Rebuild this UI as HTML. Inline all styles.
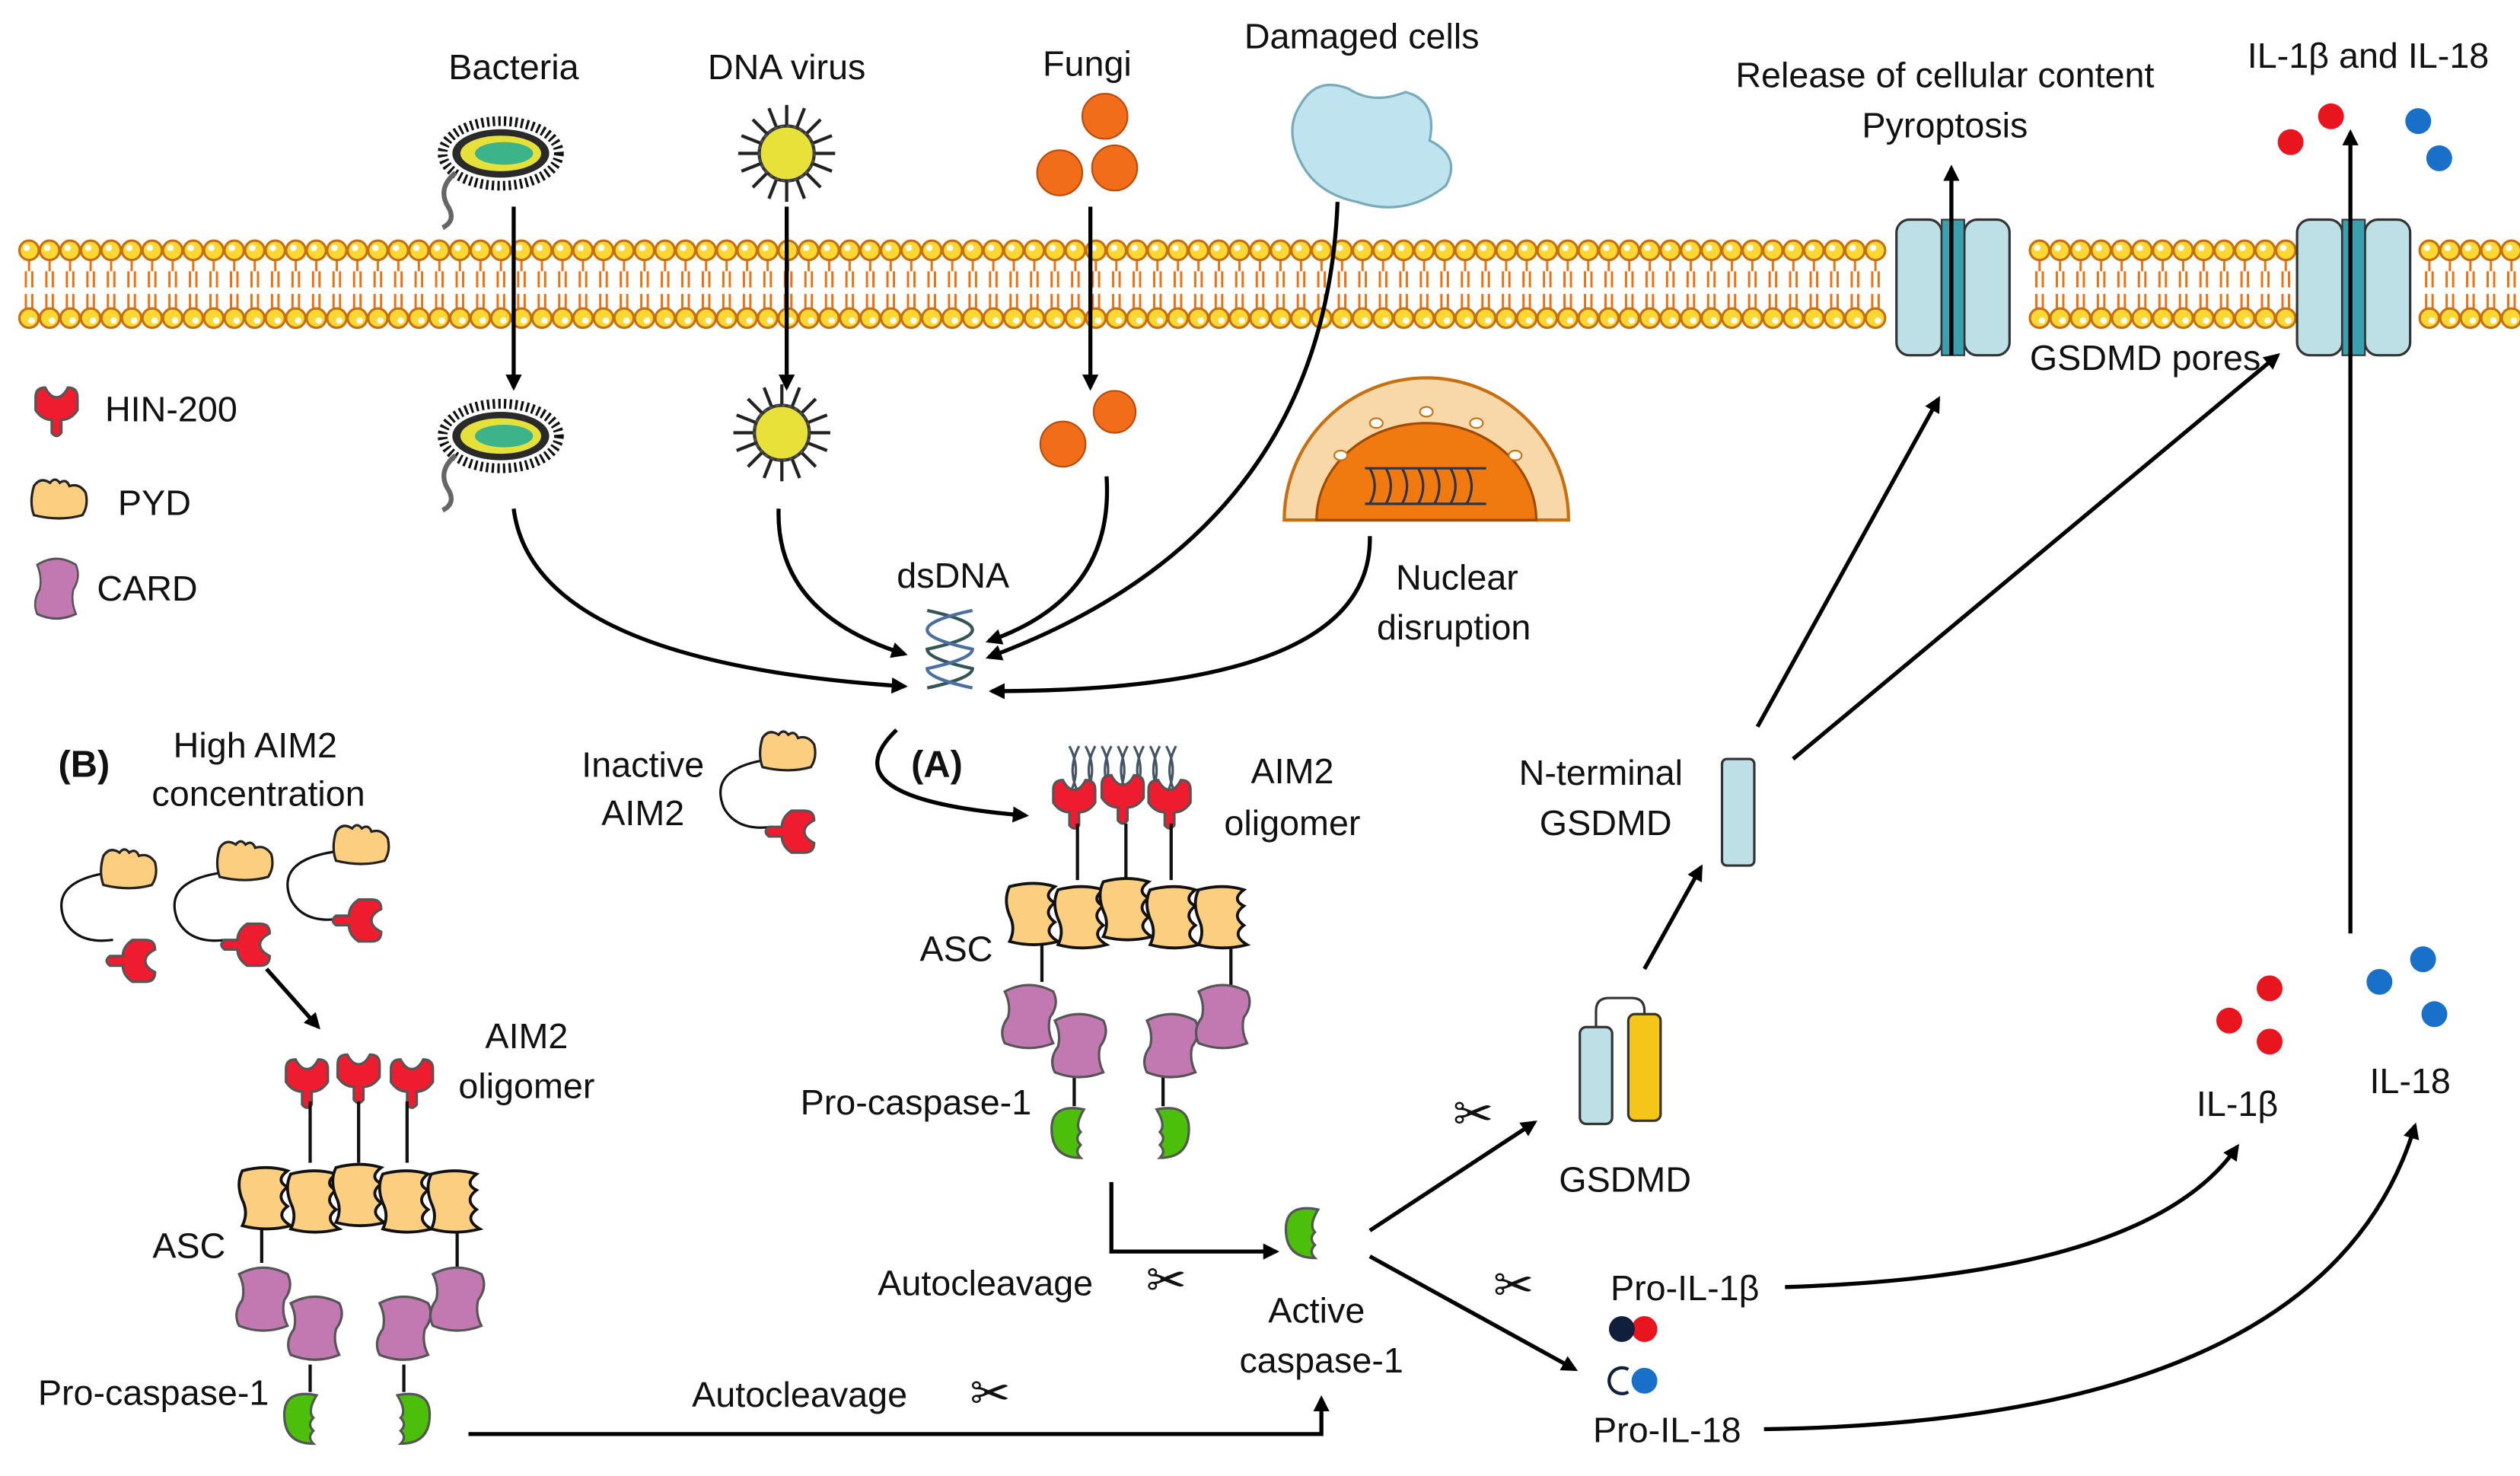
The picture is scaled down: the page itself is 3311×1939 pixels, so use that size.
<!DOCTYPE html>
<html><head><meta charset="utf-8"><style>
html,body{margin:0;padding:0;background:#fff;}
svg{display:block;}
text{font-family:"Liberation Sans","DejaVu Sans",sans-serif;font-size:22px;fill:#111;}
</style></head><body>
<svg width="3311" height="1939" viewBox="0 0 1560 914" preserveAspectRatio="none" xmlns="http://www.w3.org/2000/svg">
<defs>
<marker id="ah" markerWidth="10" markerHeight="10" refX="8" refY="5" orient="auto" markerUnits="userSpaceOnUse"><path d="M0,0 L10,5 L0,10 z" fill="#000"/></marker>
<g id="hin"><path d="M-13,-8 q0,-6 6,-6 q3,6 7,6 q4,0 7,-6 q6,0 6,6 l0,8 q-4,6 -10,6 l0,8 q-3,4 -6,0 l0,-8 q-6,0 -10,-6z" fill="#ee1c2e" stroke="#555" stroke-width="1.5"/></g>
<g id="pyd"><path d="M-16,-10 q4,-6 10,-2 q3,-4 6,0 q4,-3 6,2 q6,-2 10,4 q2,8 -2,14 q-14,4 -30,0 q-3,-8 0,-18z" fill="#fbcf7f" stroke="#222" stroke-width="1.5"/></g>
<g id="asc"><path d="M-15,-17 q15,-4 28,0 q-8,6 0,10 q-8,6 0,12 q-8,6 2,12 q-15,4 -30,0 q4,-8 0,-16 q-4,-10 0,-18z" fill="#fbcf7f" stroke="#111" stroke-width="1.8"/></g>
<g id="card"><path d="M-15,-16 q15,-8 30,0 q4,8 -2,16 q-2,8 2,16 q-15,6 -30,0 q-4,-8 2,-16 q2,-8 -2,-16z" fill="#c279b2" stroke="#555" stroke-width="1.5"/></g>
<g id="casp"><path d="M4,-16 q-20,-4 -20,12 q0,18 18,18 q-4,-4 0,-8 q-4,-4 0,-8 q-4,-4 2,-14z" fill="#4cbf0a" stroke="#555" stroke-width="1.5"/></g>
<g id="caspR"><path d="M-4,-16 q20,-4 20,12 q0,18 -18,18 q4,-4 0,-8 q4,-4 0,-8 q4,-4 -2,-14z" fill="#4cbf0a" stroke="#555" stroke-width="1.5"/></g>
<g id="bact"><ellipse cx="0" cy="0" rx="36" ry="20" fill="none" stroke="#111" stroke-width="6" stroke-dasharray="1.5 2"/><ellipse cx="0" cy="0" rx="30" ry="15" fill="#2a2a2a"/><ellipse cx="0" cy="0" rx="25" ry="11" fill="#e6e13a"/><ellipse cx="2" cy="0" rx="18" ry="7" fill="#3db38a"/><path d="M-28,12 q-12,10 -4,22 q4,8 -4,12" stroke="#666" stroke-width="3" fill="none"/></g>
<g id="virus"><g stroke="#222" stroke-width="2"><line x1="-30" y1="0" x2="30" y2="0"/><line x1="0" y1="-30" x2="0" y2="30"/><line x1="-21" y1="-21" x2="21" y2="21"/><line x1="-21" y1="21" x2="21" y2="-21"/><line x1="-28" y1="-11" x2="28" y2="11"/><line x1="-11" y1="-28" x2="11" y2="28"/><line x1="-28" y1="11" x2="28" y2="-11"/><line x1="11" y1="-28" x2="-11" y2="28"/></g><circle r="17" fill="#e7e13a" stroke="#333" stroke-width="2"/><circle r="17" fill="none" stroke="#555" stroke-width="1" stroke-dasharray="2 2"/></g>
<g id="dna"><path d="M-14,0 q28,6 28,12 q0,6 -28,12 q0,6 28,12 q0,6 -28,12" stroke="#355" stroke-width="2" fill="none"/><path d="M14,0 q-28,6 -28,12 q0,6 28,12 q0,6 -28,12 q0,6 28,12" stroke="#4a6fa0" stroke-width="2" fill="none"/></g>
<g id="pore"><rect x="-35" y="-42" width="28" height="84" rx="8" fill="#bde0e6" stroke="#333" stroke-width="1.5"/><rect x="7" y="-42" width="28" height="84" rx="8" fill="#bde0e6" stroke="#333" stroke-width="1.5"/><rect x="-7" y="-42" width="14" height="84" fill="#3aa0b0" stroke="#333" stroke-width="1"/></g>
</defs>

<!-- pores -->
<use href="#pore" x="1209" y="178"/>
<use href="#pore" x="1457" y="178"/>

<!-- top labels -->
<text x="318" y="49" text-anchor="middle">Bacteria</text>
<text x="487" y="49" text-anchor="middle">DNA virus</text>
<text x="673" y="47" text-anchor="middle">Fungi</text>
<text x="843" y="30" text-anchor="middle">Damaged cells</text>
<text x="1204" y="54" text-anchor="middle">Release of cellular content</text>
<text x="1204" y="85" text-anchor="middle">Pyroptosis</text>
<text x="1466" y="42" text-anchor="middle">IL-1β and IL-18</text>
<text x="1328" y="229" text-anchor="middle">GSDMD pores</text>

<!-- legend -->
<use href="#hin" x="35" y="254"/><text x="65" y="261">HIN-200</text>
<use href="#pyd" x="37" y="311"/><text x="73" y="319">PYD</text>
<g transform="translate(35,365) scale(0.8,0.95)"><use href="#card"/></g><text x="60" y="372">CARD</text>

<!-- pathogens -->
<use href="#bact" x="310" y="95"/>
<use href="#bact" x="310" y="270"/>
<use href="#virus" x="487" y="95"/>
<use href="#virus" x="484" y="268"/>
<g fill="#f26d1a" stroke="#b94a0a" stroke-width="1"><circle cx="684" cy="72" r="14"/><circle cx="656" cy="107" r="14"/><circle cx="690" cy="104" r="14"/><circle cx="690" cy="255" r="13"/><circle cx="658" cy="275" r="14"/></g>
<path d="M805,65 q10,-18 30,-10 q15,10 35,2 q20,5 15,30 q20,10 10,28 q-25,20 -55,10 q-25,-5 -35,-25 q-10,-20 0,-35z" fill="#bfe3ef" stroke="#7ab" stroke-width="1.5"/>
<!-- nucleus -->
<path d="M795,322 a88,88 0 0 1 176,0z" fill="#f8d7a8" stroke="#c87010" stroke-width="2"/>
<path d="M815,322 a68,60 0 0 1 136,0z" fill="#f07a10" stroke="#a04a00" stroke-width="1.5"/>
<g stroke="#334" stroke-width="1.5" fill="none"><path d="M845,290 h75 M845,312 h75"/><path d="M848,290 q6,11 0,22 M858,290 q6,11 0,22 M868,290 q6,11 0,22 M878,290 q6,11 0,22 M888,290 q6,11 0,22 M898,290 q6,11 0,22 M908,290 q6,11 0,22"/></g>
<g fill="#fff" stroke="#c87010"><ellipse cx="830" cy="282" rx="4" ry="3"/><ellipse cx="852" cy="262" rx="4" ry="3"/><ellipse cx="883" cy="255" rx="4" ry="3"/><ellipse cx="914" cy="262" rx="4" ry="3"/><ellipse cx="938" cy="282" rx="4" ry="3"/></g>
<text x="902" y="365" text-anchor="middle">Nuclear</text><text x="900" y="396" text-anchor="middle">disruption</text>

<!-- dsDNA -->
<text x="590" y="364" text-anchor="middle">dsDNA</text>
<use href="#dna" x="588" y="378"/>

<!-- arrows -->
<g stroke="#000" stroke-width="2.5" fill="none" marker-end="url(#ah)">
<line x1="318" y1="128" x2="318" y2="240"/>
<line x1="487" y1="128" x2="487" y2="240"/>
<line x1="675" y1="128" x2="675" y2="240"/>
<path d="M828,125 Q820,330 612,407"/>
<path d="M318,315 Q330,410 560,425"/>
<path d="M482,315 Q480,380 560,405"/>
<path d="M685,295 Q690,370 612,397"/>
<path d="M848,332 Q850,428 614,428"/>
<path d="M555,452 Q510,495 635,505"/>
<path d="M688,732 V775 H790"/>
<path d="M290,888 H818 V866"/>
<line x1="848" y1="762" x2="950" y2="695"/>
<line x1="848" y1="778" x2="975" y2="848"/>
<line x1="1018" y1="600" x2="1053" y2="537"/>
<line x1="1088" y1="450" x2="1200" y2="247"/>
<line x1="1110" y1="470" x2="1410" y2="220"/>
<line x1="1208" y1="220" x2="1208" y2="104"/>
<line x1="1455" y1="578" x2="1455" y2="82"/>
<path d="M1105,797 Q1330,790 1385,710"/>
<path d="M1092,885 Q1440,880 1495,697"/>
<line x1="165" y1="600" x2="197" y2="636"/>
</g>

<!-- (A) -->
<text x="398" y="481" text-anchor="middle">Inactive</text><text x="398" y="511" text-anchor="middle">AIM2</text>
<path d="M478,470 q-40,5 -30,30 q8,15 30,12" stroke="#111" stroke-width="1.5" fill="none"/>
<use href="#pyd" x="488" y="467"/>
<g transform="translate(490,515) rotate(90)"><use href="#hin"/></g>
<text x="580" y="481" text-anchor="middle" style="font-weight:bold;font-size:23px">(A)</text>
<text x="52" y="481" text-anchor="middle" style="font-weight:bold;font-size:23px">(B)</text>
<text x="158" y="469" text-anchor="middle">High AIM2</text><text x="160" y="499" text-anchor="middle">concentration</text>

<g stroke="#456" stroke-width="1.5" fill="none"><path d="M662,462 q8,15 0,30 M672,462 q8,15 0,30 M682,462 q8,15 0,30 M692,462 q8,15 0,30 M702,462 q8,15 0,30 M712,462 q8,15 0,30 M722,462 q8,15 0,30 M668,462 q-8,15 0,30 M678,462 q-8,15 0,30 M688,462 q-8,15 0,30 M698,462 q-8,15 0,30 M708,462 q-8,15 0,30 M718,462 q-8,15 0,30 M728,462 q-8,15 0,30"/></g>
<use href="#hin" x="665" y="497"/><use href="#hin" x="724" y="497"/><use href="#hin" x="695" y="494"/>
<text x="800" y="485" text-anchor="middle">AIM2</text><text x="800" y="517" text-anchor="middle">oligomer</text>
<g stroke="#111" stroke-width="2"><line x1="667" y1="510" x2="667" y2="545"/><line x1="697" y1="510" x2="697" y2="545"/><line x1="725" y1="510" x2="725" y2="545"/><line x1="645" y1="585" x2="645" y2="608"/><line x1="762" y1="585" x2="762" y2="610"/><line x1="665" y1="665" x2="665" y2="685"/><line x1="720" y1="665" x2="720" y2="685"/></g>
<use href="#asc" x="640" y="566"/><use href="#asc" x="670" y="568"/><use href="#asc" x="698" y="563"/><use href="#asc" x="727" y="568"/><use href="#asc" x="757" y="568"/>
<text x="592" y="595" text-anchor="middle">ASC</text>
<use href="#card" x="637" y="630"/><use href="#card" x="668" y="648"/><use href="#card" x="725" y="648"/><use href="#card" x="757" y="630"/>
<text x="567" y="690" text-anchor="middle">Pro-caspase-1</text>
<use href="#casp" x="667" y="703"/><use href="#caspR" x="720" y="703"/>
<text x="610" y="802" text-anchor="middle">Autocleavage</text>
<text x="722" y="803" text-anchor="middle" style="font-size:30px">✂</text>
<use href="#casp" x="812" y="765"/>
<text x="815" y="819" text-anchor="middle">Active</text><text x="818" y="850" text-anchor="middle">caspase-1</text>

<!-- (B) -->
<g stroke="#111" stroke-width="1.5" fill="none"><path d="M70,540 q-40,5 -30,30 q8,15 30,12"/><path d="M140,540 q-40,5 -30,30 q8,15 30,12"/><path d="M210,527 q-40,5 -30,30 q8,15 30,12"/></g>
<use href="#pyd" x="80" y="540"/><use href="#pyd" x="152" y="535"/><use href="#pyd" x="224" y="525"/>
<g transform="translate(82,595) rotate(90)"><use href="#hin"/></g><g transform="translate(153,585) rotate(90)"><use href="#hin"/></g><g transform="translate(222,570) rotate(90)"><use href="#hin"/></g>
<use href="#hin" x="190" y="670"/><use href="#hin" x="222" y="667"/><use href="#hin" x="255" y="670"/>
<text x="326" y="649" text-anchor="middle">AIM2</text><text x="326" y="680" text-anchor="middle">oligomer</text>
<g stroke="#111" stroke-width="2"><line x1="192" y1="682" x2="192" y2="720"/><line x1="222" y1="682" x2="222" y2="720"/><line x1="252" y1="682" x2="252" y2="720"/><line x1="162" y1="760" x2="162" y2="782"/><line x1="283" y1="760" x2="283" y2="785"/><line x1="192" y1="845" x2="192" y2="862"/><line x1="250" y1="845" x2="250" y2="862"/></g>
<use href="#asc" x="165" y="742"/><use href="#asc" x="195" y="744"/><use href="#asc" x="223" y="740"/><use href="#asc" x="252" y="744"/><use href="#asc" x="282" y="744"/>
<text x="117" y="779" text-anchor="middle">ASC</text>
<use href="#card" x="163" y="805"/><use href="#card" x="195" y="823"/><use href="#card" x="250" y="823"/><use href="#card" x="283" y="805"/>
<text x="95" y="870" text-anchor="middle">Pro-caspase-1</text>
<use href="#casp" x="192" y="880"/><use href="#caspR" x="250" y="880"/>
<text x="495" y="871" text-anchor="middle">Autocleavage</text>
<text x="613" y="873" text-anchor="middle" style="font-size:30px">✂</text>
<text x="912" y="700" text-anchor="middle" style="font-size:30px">✂</text>
<text x="937" y="806" text-anchor="middle" style="font-size:30px">✂</text>

<!-- GSDMD -->
<path d="M988,640 v-14 q0,-8 8,-8 h14 q8,0 8,8 v14" stroke="#333" stroke-width="1.5" fill="none"/>
<rect x="978" y="636" width="20" height="60" rx="4" fill="#bde0e6" stroke="#333" stroke-width="1.5"/>
<rect x="1008" y="628" width="20" height="66" rx="4" fill="#f5c518" stroke="#333" stroke-width="1.5"/>
<text x="1006" y="738" text-anchor="middle">GSDMD</text>
<rect x="1066" y="470" width="20" height="66" rx="3" fill="#bde0e6" stroke="#333" stroke-width="1.5"/>
<text x="991" y="486" text-anchor="middle">N-terminal</text><text x="994" y="517" text-anchor="middle">GSDMD</text>

<!-- ILs -->
<g fill="#e8141e"><circle cx="1418" cy="88" r="8"/><circle cx="1443" cy="72" r="8"/><circle cx="1380" cy="632" r="8"/><circle cx="1405" cy="612" r="8"/><circle cx="1405" cy="645" r="8"/><circle cx="1018" cy="823" r="8"/></g>
<g fill="#1870c8"><circle cx="1497" cy="75" r="8"/><circle cx="1510" cy="98" r="8"/><circle cx="1473" cy="608" r="8"/><circle cx="1500" cy="594" r="8"/><circle cx="1507" cy="628" r="8"/><circle cx="1018" cy="855" r="8"/></g>
<circle cx="1004" cy="823" r="8" fill="#10203a"/>
<path d="M1008,848 a8,8 0 1 0 0,14" stroke="#10203a" stroke-width="2" fill="none"/>
<text x="1385" y="691" text-anchor="middle">IL-1β</text><text x="1492" y="677" text-anchor="middle">IL-18</text>
<text x="1043" y="805" text-anchor="middle">Pro-IL-1β</text><text x="1032" y="893" text-anchor="middle">Pro-IL-18</text>
</svg>
<script>
(function(){
var ns="http://www.w3.org/2000/svg",svg=document.querySelector('svg');
var g=document.createElementNS(ns,'g');
var s='';
for(var x=18;x<1555;x+=12.7){
 if((x>1168&&x<1250)||(x>1416&&x<1498))continue;
 s+='<path d="M'+x+',160 v8 M'+(x-2)+',168 v10 M'+(x+2)+',168 v10 M'+(x-2)+',182 v10 M'+(x+2)+',182 v10 M'+x+',192 v6" stroke="#f07010" stroke-width="1.4" fill="none"/>';
 s+='<circle cx="'+x+'" cy="155" r="6" fill="#fdd835" stroke="#c87010" stroke-width="1.5"/><circle cx="'+(x-1.5)+'" cy="153.5" r="2" fill="#fff"/>';
 s+='<circle cx="'+x+'" cy="197" r="6" fill="#fdd835" stroke="#c87010" stroke-width="1.5"/><circle cx="'+(x+1.5)+'" cy="198.5" r="2" fill="#fff"/>';
}
g.innerHTML=s;
svg.insertBefore(g,svg.querySelector('use[href="#pore"]'));
})();
</script>
</body></html>
